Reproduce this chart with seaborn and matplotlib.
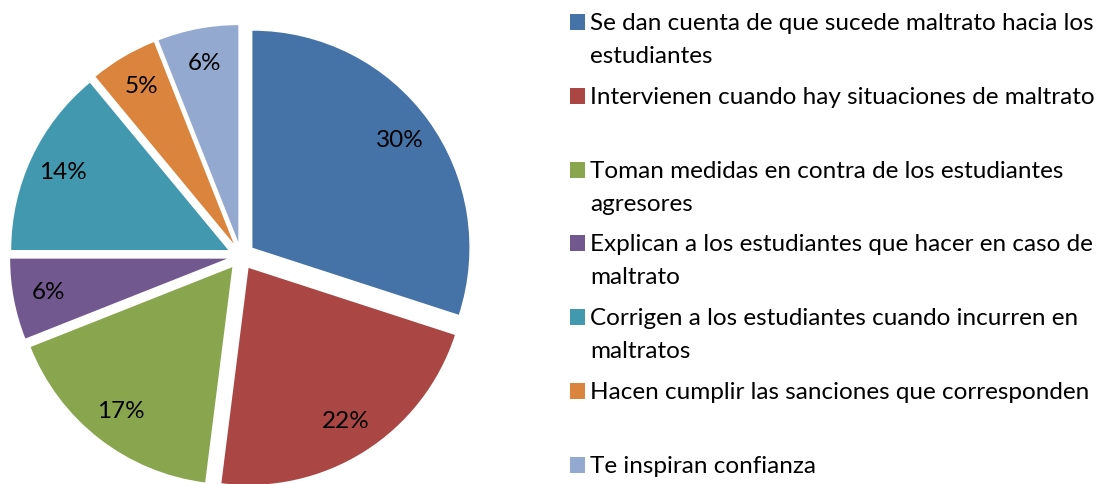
import seaborn as sns
import matplotlib.pyplot as plt
from matplotlib.patches import Rectangle

# data
labels = [
    ["Se dan cuenta de que sucede maltrato hacia los", "estudiantes"],
    ["Intervienen cuando hay situaciones de maltrato"],
    ["Toman medidas en contra de los estudiantes", "agresores"],
    ["Explican a los estudiantes que hacer en caso de", "maltrato"],
    ["Corrigen a los estudiantes cuando incurren en", "maltratos"],
    ["Hacen cumplir las sanciones que corresponden"],
    ["Te inspiran confianza"],
]
values = [30, 22, 17, 6, 14, 5, 6]
colors = ["#4572A7", "#AA4643", "#89A54E", "#71588F", "#4198AF", "#DB843D", "#93A9CF"]

sns.set_theme(style="white")
plt.rcParams['font.family'] = ['Lato', 'DejaVu Sans']

W, H = 1110, 484
fig = plt.figure(figsize=(W / 100, H / 100), dpi=100)

# pie axes, square in pixels, centred on the pie centre
cx, cy, r_px = 241, 256, 217
half = 240
ax = fig.add_axes([(cx - half) / W, (H - cy - half) / H, 2 * half / W, 2 * half / H])

palette = sns.color_palette(colors)
wedges, texts, autotexts = ax.pie(
    values, colors=palette, startangle=90, counterclock=False,
    explode=[0.065] * len(values), autopct='%1.0f%%', pctdistance=0.84,
    textprops={'fontsize': 17.5, 'color': 'black'},
    wedgeprops={'linewidth': 0}, radius=1,
)
lim = half / r_px
ax.set_xlim(-lim, lim)
ax.set_ylim(-lim, lim)
ax.axis('off')

# legend drawn by hand so the spacing follows the original
base0, step, line_h = 30, 73.8, 33
for i, (lines, col) in enumerate(zip(labels, colors)):
    yb = base0 + i * step
    fig.patches.append(Rectangle((570 / W, (H - yb) / H), 15 / W, 16 / H,
                                 transform=fig.transFigure, facecolor=col,
                                 edgecolor='none'))
    for j, txt in enumerate(lines):
        fig.text(590 / W, (H - yb - j * line_h) / H, txt, fontsize=17.5,
                 va='baseline', ha='left', color='black')

fig.savefig('out.png', dpi=100)
